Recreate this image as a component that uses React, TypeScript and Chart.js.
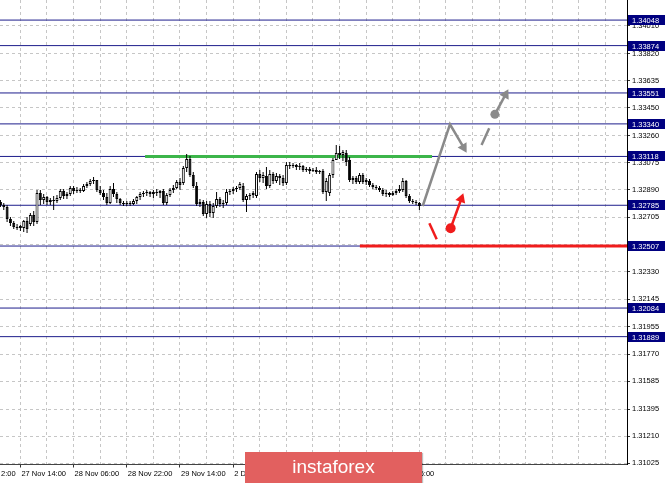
import React, { useEffect, useRef } from 'react';
import { Chart, registerables } from 'chart.js';
Chart.register(...registerables);

// H1 candles; bar 0 = "27 Nov 14:00"; first candle is bar -6
const FIRST_BAR = -6;
const opens = [
  1.32808, 1.32787, 1.32773, 1.32691, 1.32664, 1.32637, 1.3263, 1.3263, 1.32678, 1.32657, 1.32719, 1.32671, 1.32869,
  1.32821, 1.32842, 1.32808, 1.32821, 1.32814, 1.32835, 1.32883, 1.32849, 1.32862, 1.32903, 1.32883, 1.32889, 1.32883,
  1.32917, 1.3293, 1.32951, 1.32957, 1.32889, 1.32869, 1.32842, 1.32801, 1.32896, 1.32862, 1.32828, 1.32801, 1.32794,
  1.32801, 1.32794, 1.32814, 1.32842, 1.32862, 1.32869, 1.32876, 1.32862, 1.32876, 1.32869, 1.32883, 1.32801, 1.32855,
  1.32889, 1.32903, 1.32944, 1.32937, 1.33039, 1.33101, 1.32991, 1.32917, 1.32794, 1.32808, 1.32726, 1.32794, 1.32732,
  1.3278, 1.32828, 1.32794, 1.32801, 1.32876, 1.32883, 1.32896, 1.32903, 1.32917, 1.32821, 1.32849, 1.32855, 1.32849,
  1.32998, 1.32971, 1.32985, 1.32917, 1.32998, 1.32951, 1.32985, 1.32971, 1.32937, 1.3306, 1.33053, 1.3306, 1.33046,
  1.33053, 1.33026, 1.33032, 1.33019, 1.33026, 1.33012, 1.33019, 1.32876, 1.32869, 1.32991, 1.33094, 1.33142, 1.33128,
  1.33142, 1.33094, 1.32957, 1.32971, 1.32944, 1.32991, 1.32944, 1.32951, 1.32923, 1.3291, 1.32903, 1.32889, 1.32862,
  1.32869, 1.32855, 1.32869, 1.32883, 1.32889, 1.32951, 1.32849, 1.32814, 1.32808, 1.32801,
];
const highs = [
  1.32821, 1.32801, 1.32787, 1.32705, 1.32678, 1.32657, 1.3265, 1.32685, 1.32705, 1.32732, 1.32746, 1.32889, 1.32889,
  1.32862, 1.32849, 1.32835, 1.32849, 1.32855, 1.32896, 1.32896, 1.32876, 1.32917, 1.32917, 1.3291, 1.32903, 1.3293,
  1.32944, 1.32964, 1.32978, 1.32957, 1.32917, 1.32889, 1.32869, 1.32917, 1.32937, 1.32876, 1.32835, 1.32814, 1.32814,
  1.32814, 1.32828, 1.32849, 1.32876, 1.32883, 1.32889, 1.32883, 1.32889, 1.32896, 1.32889, 1.32896, 1.32869, 1.32903,
  1.32923, 1.32957, 1.32971, 1.33053, 1.33135, 1.33121, 1.33012, 1.32944, 1.32828, 1.32821, 1.32814, 1.32814, 1.32801,
  1.32876, 1.32842, 1.32821, 1.32896, 1.32896, 1.3291, 1.32917, 1.32944, 1.32937, 1.32862, 1.32869, 1.32883, 1.33012,
  1.33026, 1.33012, 1.33046, 1.33026, 1.33012, 1.33005, 1.32998, 1.32991, 1.3308, 1.3308, 1.33073, 1.33066, 1.33073,
  1.3306, 1.33046, 1.33046, 1.33039, 1.33046, 1.33026, 1.33032, 1.32971, 1.33005, 1.33107, 1.33196, 1.33189, 1.33162,
  1.33162, 1.33114, 1.32985, 1.32985, 1.33005, 1.33005, 1.32971, 1.32964, 1.32937, 1.32923, 1.32917, 1.32903, 1.32889,
  1.32876, 1.32883, 1.32896, 1.32923, 1.32971, 1.32957, 1.32862, 1.32828, 1.32821, 1.32808,
];
const lows = [
  1.32773, 1.32753, 1.32671, 1.32644, 1.32623, 1.32616, 1.3261, 1.32603, 1.32596, 1.32644, 1.32644, 1.32657, 1.32787,
  1.32794, 1.32787, 1.32787, 1.32753, 1.32801, 1.32821, 1.32828, 1.32828, 1.32849, 1.32862, 1.32869, 1.32869, 1.32876,
  1.32903, 1.32917, 1.3293, 1.32876, 1.32855, 1.32821, 1.32787, 1.32794, 1.32842, 1.32801, 1.32787, 1.3278, 1.3278,
  1.3278, 1.32787, 1.32794, 1.32821, 1.32842, 1.32849, 1.32842, 1.32835, 1.32849, 1.32835, 1.32787, 1.32787, 1.32842,
  1.32869, 1.32896, 1.32889, 1.32923, 1.33012, 1.32978, 1.32903, 1.3278, 1.32773, 1.32712, 1.32698, 1.32705, 1.32698,
  1.32766, 1.32773, 1.32766, 1.32787, 1.32855, 1.32862, 1.32876, 1.32889, 1.32808, 1.32739, 1.32821, 1.32835, 1.32835,
  1.32944, 1.32937, 1.32896, 1.32903, 1.3293, 1.32937, 1.32923, 1.32917, 1.32923, 1.33032, 1.33039, 1.33026, 1.33026,
  1.33012, 1.33012, 1.32998, 1.33012, 1.32998, 1.32998, 1.32862, 1.32814, 1.32849, 1.32971, 1.33094, 1.33101, 1.33087,
  1.33053, 1.32944, 1.3293, 1.3293, 1.3293, 1.3293, 1.32923, 1.3291, 1.32896, 1.32889, 1.32876, 1.32849, 1.32842,
  1.32842, 1.32849, 1.32855, 1.32869, 1.32876, 1.32835, 1.32801, 1.32794, 1.32787, 1.32753,
];
const closes = [
  1.32787, 1.32773, 1.32691, 1.32664, 1.32637, 1.3263, 1.32644, 1.32678, 1.32623, 1.32719, 1.32671, 1.32869, 1.32821,
  1.32842, 1.32808, 1.32821, 1.32814, 1.32835, 1.32883, 1.32849, 1.32862, 1.32903, 1.32883, 1.32889, 1.32883, 1.32917,
  1.3293, 1.32951, 1.32957, 1.32889, 1.32869, 1.32842, 1.32801, 1.32896, 1.32862, 1.32828, 1.32801, 1.32794, 1.32801,
  1.32794, 1.32814, 1.32842, 1.32862, 1.32869, 1.32876, 1.32862, 1.32876, 1.32869, 1.32883, 1.32801, 1.32855, 1.32889,
  1.32903, 1.32944, 1.32923, 1.33039, 1.33101, 1.32991, 1.32917, 1.32794, 1.32808, 1.32726, 1.32794, 1.32732, 1.3278,
  1.32828, 1.32794, 1.32801, 1.32876, 1.32883, 1.32896, 1.32903, 1.3293, 1.32821, 1.32849, 1.32855, 1.32869, 1.32998,
  1.32971, 1.32991, 1.32917, 1.32998, 1.32951, 1.32985, 1.32971, 1.32937, 1.3306, 1.33053, 1.3306, 1.33046, 1.33053,
  1.33026, 1.33032, 1.33019, 1.33026, 1.33012, 1.33019, 1.32876, 1.32951, 1.32991, 1.33094, 1.33142, 1.33128, 1.33148,
  1.3308, 1.32957, 1.32971, 1.32944, 1.32991, 1.32944, 1.32957, 1.32923, 1.3291, 1.32903, 1.32889, 1.32862, 1.32869,
  1.32855, 1.32869, 1.32883, 1.32896, 1.32951, 1.32849, 1.32814, 1.32808, 1.32801, 1.3278,
];

const priceTicks = [
  1.31025, 1.3121, 1.31395, 1.31585, 1.3177, 1.31955, 1.32145, 1.3233, 1.32515, 1.32705, 1.3289, 1.33075, 1.3326,
  1.3345, 1.33635, 1.3382, 1.3401,
];
const levelValues = [1.34048, 1.33874, 1.33551, 1.3334, 1.33118, 1.32785, 1.32507, 1.32084, 1.31889];
const timeLabelBars = [0, 16, 32, 48, 64, 80, 96, 112];
const timeLabels = [
  '27 Nov 14:00', '28 Nov 06:00', '28 Nov 22:00', '29 Nov 14:00', '2 Dec 06:00', '2 Dec 22:00', '3 Dec 14:00',
  '4 Dec 06:00',
];
const cutOffLabel = '2:00';
const GRID_STEP = 8;
const LAST_GRID_BAR = 176;

const X_MIN = -6.135;
const X_MAX = 182.44;
const Y_MIN = 1.31017;
const Y_MAX = 1.34185;

// drawn objects (bar number, price)
const greenLine = [{ x: 37.5, y: 1.33118 }, { x: 123.8, y: 1.33118 }];
const redLine = [{ x: 102.1, y: 1.32507 }, { x: X_MAX, y: 1.32507 }];
const grayPath = [{ x: 121.0, y: 1.3278 }, { x: 129.2, y: 1.33337 }, { x: 133.7, y: 1.33165 }];
const grayDash = [{ x: 138.7, y: 1.33196 }, { x: 141.0, y: 1.3331 }];
const grayArrow = [{ x: 142.7, y: 1.33405 }, { x: 145.9, y: 1.3354 }];
const grayDot = [{ x: 142.7, y: 1.33405 }];
const grayHeads = [{ x: 133.3, y: 1.33179 }, { x: 145.9, y: 1.3354 }];
const grayHeadAngles = [149.5, 28];
const redDash = [{ x: 123.0, y: 1.32662 }, { x: 125.2, y: 1.32553 }];
const redArrow = [{ x: 129.4, y: 1.32628 }, { x: 132.6, y: 1.32828 }];
const redDot = [{ x: 129.4, y: 1.32628 }];
const redHeads = [{ x: 132.6, y: 1.32828 }];
const redHeadAngles = [19.8];

const NAVY = '#1d1d8c';
const GRAY = '#8a8a8a';
const RED = '#f01c1c';
const FONT = '"Liberation Sans", Arial, sans-serif';

export default function App() {
  const ref = useRef<HTMLCanvasElement | null>(null);

  useEffect(() => {
    if (!ref.current) return;
    const bars = opens.map((_, k) => FIRST_BAR + k);

    const datasets: any[] = [];
    levelValues.forEach((v) => {
      datasets.push({
        type: 'line', data: [{ x: X_MIN, y: v }, { x: X_MAX, y: v }], borderColor: NAVY, borderWidth: 1,
        pointRadius: 0, order: 20,
      });
    });
    datasets.push({ type: 'line', data: greenLine, borderColor: '#3cb54a', borderWidth: 3, pointRadius: 0, order: 15 });
    datasets.push({ type: 'line', data: redLine, borderColor: RED, borderWidth: 3, pointRadius: 0, order: 15 });
    datasets.push({
      type: 'bar', data: bars.map((x, k) => ({ x, y: [lows[k], highs[k]] })), backgroundColor: '#000',
      borderWidth: 0, barThickness: 1, grouped: false, inflateAmount: 0, order: 12,
    });
    datasets.push({
      type: 'bar', data: bars.map((x, k) => ({ x, y: [opens[k], closes[k]] })),
      backgroundColor: bars.map((_, k) => (closes[k] >= opens[k] ? '#ffffff' : '#000000')),
      borderColor: '#000', borderWidth: 1, borderSkipped: false, barThickness: 3, minBarLength: 1,
      grouped: false, inflateAmount: 0, order: 11,
    });
    const lineDs = (data: any, color: string, width = 2.5) => ({
      type: 'line', data, borderColor: color, borderWidth: width, pointRadius: 0, order: 5,
      borderCapStyle: 'butt',
    });
    datasets.push(lineDs(grayPath, GRAY));
    datasets.push(lineDs(grayDash, GRAY));
    datasets.push(lineDs(grayArrow, GRAY));
    datasets.push(lineDs(redDash, RED));
    datasets.push(lineDs(redArrow, RED));
    const dotDs = (data: any, color: string, r: number) => ({
      type: 'line', data, showLine: false, pointRadius: r, pointBackgroundColor: color, pointBorderWidth: 0,
      pointStyle: 'circle', order: 4,
    });
    datasets.push(dotDs(grayDot, GRAY, 4.5));
    datasets.push(dotDs(redDot, RED, 5));
    const headDs = (data: any, color: string, angles: number[]) => ({
      type: 'line', data, showLine: false, pointRadius: 6, pointBackgroundColor: color, pointBorderWidth: 0,
      pointStyle: 'triangle', pointRotation: angles, order: 3,
    });
    datasets.push(headDs(grayHeads, GRAY, grayHeadAngles));
    datasets.push(headDs(redHeads, RED, redHeadAngles));

    const bgPlugin = {
      id: 'bg',
      beforeDraw(chart: any) {
        const c = chart.ctx;
        c.save();
        c.fillStyle = '#ffffff';
        c.fillRect(0, 0, chart.width, chart.height);
        c.restore();
      },
    };
    const levelBoxes = {
      id: 'levelBoxes',
      afterDraw(chart: any) {
        const { ctx, chartArea } = chart;
        const y = chart.scales.y;
        ctx.save();
        ctx.font = '7.5px ' + FONT;
        ctx.textBaseline = 'middle';
        ctx.textAlign = 'left';
        levelValues.forEach((v) => {
          const py = Math.round(y.getPixelForValue(v));
          ctx.fillStyle = '#000080';
          ctx.fillRect(chartArea.right + 1, py - 5, 38, 10);
          ctx.fillStyle = '#ffffff';
          ctx.fillText(v.toFixed(5), chartArea.right + 5, py + 0.5);
        });
        ctx.restore();
      },
    };

    const chart = new Chart(ref.current, {
      type: 'line',
      data: { datasets },
      plugins: [bgPlugin, levelBoxes],
      options: {
        animation: false,
        responsive: false,
        devicePixelRatio: 1,
        events: [],
        layout: { padding: 0, autoPadding: false },
        plugins: { legend: { display: false }, tooltip: { enabled: false } },
        scales: {
          x: {
            type: 'linear',
            min: X_MIN,
            max: X_MAX,
            bounds: 'data',
            offset: false,
            afterBuildTicks: (s: any) => {
              const t = [{ value: X_MIN }];
              for (let b = 0; b <= LAST_GRID_BAR; b += GRID_STEP) t.push({ value: b });
              s.ticks = t;
            },
            afterFit: (s: any) => {
              s.height = 18.5;
              s.paddingLeft = 0; s.paddingRight = 0; s.paddingTop = 0; s.paddingBottom = 0;
            },
            ticks: {
              autoSkip: false,
              maxRotation: 0,
              minRotation: 0,
              align: 'start',
              padding: 1.5,
              labelOffset: 1,
              color: '#000',
              font: { family: FONT, size: 7.5 },
              callback: (value: any) => {
                if (value === X_MIN) return cutOffLabel;
                const i = timeLabelBars.indexOf(value);
                return i >= 0 ? timeLabels[i] : '';
              },
            },
            grid: {
              offset: false,
              color: (ctx: any) => (ctx.tick && ctx.tick.value === X_MIN ? 'rgba(0,0,0,0)' : '#c6c6c6'),
              tickColor: (ctx: any) =>
                ctx.tick && timeLabelBars.includes(ctx.tick.value) ? '#333333' : 'rgba(0,0,0,0)',
              tickLength: 3,
              tickBorderDash: [],
              lineWidth: 1,
            },
            border: { display: true, color: '#444444', width: 1, dash: [3, 3] },
          },
          y: {
            type: 'linear',
            position: 'right',
            min: Y_MIN,
            max: Y_MAX,
            bounds: 'data',
            afterBuildTicks: (s: any) => {
              s.ticks = priceTicks.map((v) => ({ value: v }));
            },
            afterFit: (s: any) => {
              s.width = 38;
              s.paddingLeft = 0; s.paddingRight = 0; s.paddingTop = 0; s.paddingBottom = 0;
            },
            ticks: {
              autoSkip: false,
              padding: 2,
              color: '#000',
              font: { family: FONT, size: 7.5 },
              callback: (value: any) => Number(value).toFixed(5),
            },
            grid: {
              color: '#c6c6c6',
              tickColor: '#333333',
              tickLength: 3,
              tickBorderDash: [],
              lineWidth: 1,
            },
            border: { display: true, color: '#000000', width: 1, dash: [3, 3] },
          },
        },
      } as any,
    });
    return () => chart.destroy();
  }, []);

  return (
    <div style={{ position: 'fixed', left: 0, top: 0, width: 665, height: 483, background: '#fff', overflow: 'hidden' }}>
      <canvas ref={ref} width={665} height={483} style={{ display: 'block', width: 665, height: 483 }} />
      <div
        style={{
          position: 'absolute', left: 245, top: 452, width: 177, height: 31, background: '#e2605f',
          color: '#fff', fontFamily: FONT, fontSize: 19, lineHeight: '30px', textAlign: 'center',
          boxShadow: '1px 1px 1px rgba(0,0,0,0.25)',
        }}
      >
        instaforex
      </div>
    </div>
  );
}
